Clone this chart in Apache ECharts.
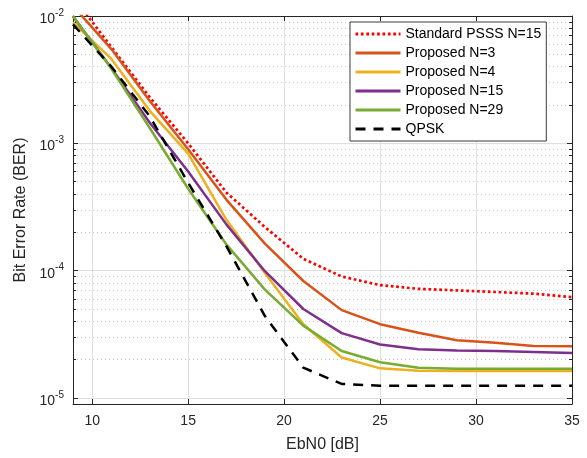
<!DOCTYPE html>
<html><head><meta charset="utf-8">
<script src="https://cdn.jsdelivr.net/npm/echarts@6/dist/echarts.min.js"></script>
<style>html,body{margin:0;padding:0;background:#fff}#c{width:587px;height:458px}</style>
</head><body><div id="c"></div>
<script>
const ebn0 = [9,11,13,15,17,19,21,23,25,27,29,31,33,35];
const berStandardN15 = [1.42e-2,5.7e-3,2.3e-3,1.0e-3,4.1e-4,2.2e-4,1.24e-4,9.0e-5,7.7e-5,7.2e-5,7.0e-5,6.8e-5,6.6e-5,6.2e-5];
const berProposedN3 = [1.2e-2,5.5e-3,2.15e-3,9.0e-4,3.6e-4,1.63e-4,8.3e-5,4.9e-5,3.8e-5,3.25e-5,2.84e-5,2.72e-5,2.56e-5,2.55e-5];
const berProposedN4 = [8.9e-3,4.6e-3,1.8e-3,8.3e-4,2.5e-4,9.6e-5,3.8e-5,2.08e-5,1.71e-5,1.64e-5,1.63e-5,1.63e-5,1.63e-5,1.63e-5];
const berProposedN15 = [9.9e-3,3.9e-3,1.45e-3,6.0e-4,2.3e-4,9.9e-5,5.0e-5,3.23e-5,2.63e-5,2.42e-5,2.36e-5,2.34e-5,2.3e-5,2.26e-5];
const berProposedN29 = [1.0e-2,3.85e-3,1.32e-3,4.4e-4,1.6e-4,7.1e-5,3.7e-5,2.34e-5,1.91e-5,1.73e-5,1.70e-5,1.70e-5,1.70e-5,1.70e-5];
const berQPSK = [8.6e-3,4.0e-3,1.63e-3,4.9e-4,1.55e-4,4.4e-5,1.73e-5,1.29e-5,1.25e-5,1.25e-5,1.25e-5,1.25e-5,1.25e-5,1.25e-5];

const xTicks = [10,15,20,25,30,35];
const yTickExponents = [-5,-4,-3,-2];
const xRange = [9,35];
const yRangeLog = [-5.047,-2];

const F = '"Liberation Sans", Arial, sans-serif';
const AX = '#262626';

const minorY = [];
for (let e = -5; e < -2; e++) for (let k = 2; k <= 9; k++) minorY.push(Math.log10(k) + e);

function toLog(arr){ return ebn0.map((x,i)=>[x, Math.log10(arr[i])]); }

const seriesDefs = [
  {name:'Standard PSSS N=15', data: berStandardN15, color:'#FF0000', type:[2.7,2.7], width:2.7},
  {name:'Proposed N=3', data: berProposedN3, color:'#D95319', type:'solid', width:2.5},
  {name:'Proposed N=4', data: berProposedN4, color:'#EDB120', type:'solid', width:2.5},
  {name:'Proposed N=15', data: berProposedN15, color:'#7E2F8E', type:'solid', width:2.5},
  {name:'Proposed N=29', data: berProposedN29, color:'#77AC30', type:'solid', width:2.5},
  {name:'QPSK', data: berQPSK, color:'#000000', type:[10,8], width:2.5}
];

function yAxisBase(extra){
  return Object.assign({
    type:'value', min: yRangeLog[0], max: yRangeLog[1],
    axisLine:{show:false}, axisLabel:{show:false}, splitLine:{show:false},
    axisTick:{show:false}
  }, extra);
}

const chart = echarts.init(document.getElementById('c'), null, {renderer:'canvas'});
chart.setOption({
  animation:false,
  backgroundColor:'#fff',
  grid:{left:73, right:15, top:16, bottom:49, containLabel:false},
  legend:{
    orient:'vertical', left:350, top:22,
    itemWidth:45, itemHeight:14, itemGap:5,
    padding:[5,5,5,4],
    backgroundColor:'#fff', borderColor:'#3a3a3a', borderWidth:1,
    itemStyle:{opacity:0},
    lineStyle:{width:3},
    textStyle:{fontSize:14, color:'#000', fontFamily:F},
    data: seriesDefs.map(s=>s.name)
  },
  xAxis:[{
    type:'value', min:xRange[0], max:xRange[1], position:'bottom',
    name:'EbN0 [dB]', nameLocation:'middle', nameGap:33,
    nameTextStyle:{fontSize:16, color:AX, fontFamily:F},
    axisLine:{show:true, onZero:false, lineStyle:{color:AX, width:1}},
    axisTick:{show:true, inside:true, length:5, customValues:xTicks, lineStyle:{color:AX}},
    axisLabel:{customValues:xTicks, margin:10, fontSize:14, color:AX, fontFamily:F},
    splitLine:{show:true, lineStyle:{color:'#dfdfdf', width:1}}
  },{
    type:'value', min:xRange[0], max:xRange[1], position:'top',
    axisLine:{show:true, onZero:false, lineStyle:{color:AX, width:1}},
    axisTick:{show:true, inside:true, length:5, customValues:xTicks, lineStyle:{color:AX}},
    axisLabel:{show:false}, splitLine:{show:false}
  }],
  yAxis:[
    yAxisBase({
      position:'left',
      name:'Bit Error Rate (BER)', nameLocation:'middle', nameGap:39,
      nameTextStyle:{fontSize:16, color:AX, fontFamily:F},
      axisLine:{show:true, onZero:false, lineStyle:{color:AX, width:1}},
      axisTick:{show:true, inside:true, length:5, customValues:yTickExponents, lineStyle:{color:AX}},
      axisLabel:{show:true, customValues:yTickExponents, margin:9,
        formatter:(v)=>'{b|10}{s|' + v + '}',
        rich:{ b:{fontSize:14, color:AX, fontFamily:F, padding:[6,0,0,0]},
               s:{fontSize:10, color:AX, fontFamily:F, padding:[0,0,6,0]} }},
      splitLine:{show:true, lineStyle:{color:'#dfdfdf', width:1}}
    }),
    yAxisBase({
      position:'right',
      axisLine:{show:true, onZero:false, lineStyle:{color:AX, width:1}},
      axisTick:{show:true, inside:true, length:5, customValues:yTickExponents, lineStyle:{color:AX}}
    }),
    yAxisBase({
      position:'left',
      axisTick:{show:true, inside:true, length:3, customValues:minorY, lineStyle:{color:AX}},
      splitLine:{show:true, lineStyle:{color:'#c9c9c9', width:1, type:[1,3]}}
    }),
    yAxisBase({
      position:'right',
      axisTick:{show:true, inside:true, length:3, customValues:minorY, lineStyle:{color:AX}}
    })
  ],
  series: seriesDefs.map(s=>({
    type:'line', name:s.name, data: toLog(s.data),
    xAxisIndex:0, yAxisIndex:0,
    symbol:'none', showSymbol:false, smooth:false, clip:true,
    lineStyle:{color:s.color, width:s.width, type:s.type, cap:'butt', join:'round'},
    itemStyle:{color:s.color},
    emphasis:{disabled:true}
  }))
});
</script>
</body></html>
